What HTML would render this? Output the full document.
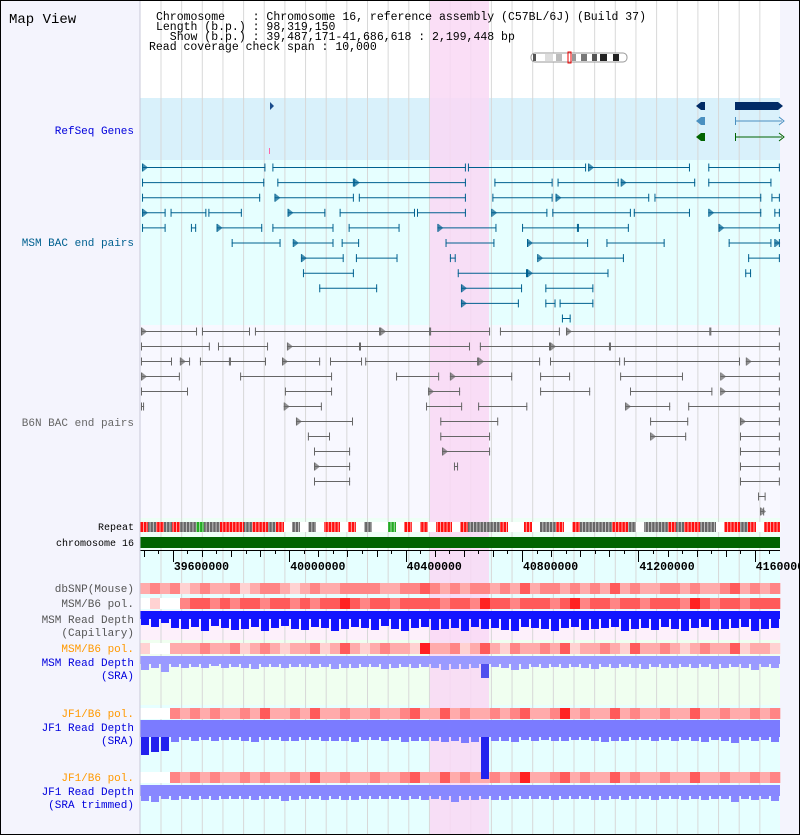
<!DOCTYPE html>
<html><head><meta charset="utf-8"><style>
html,body{margin:0;padding:0;background:#fff}
svg{display:block}
text{font-family:"Liberation Mono",monospace}
</style></head><body>
<svg id="map" width="800" height="835" viewBox="0 0 800 835" xmlns="http://www.w3.org/2000/svg">
<rect x="0" y="0" width="800" height="835" fill="#f4f4fd"/>
<rect x="140" y="0" width="640" height="98" fill="#ffffff"/>
<rect x="140" y="98" width="640" height="62" fill="#d9f1fb"/>
<rect x="140" y="160" width="640" height="165" fill="#e6ffff"/>
<rect x="140" y="325" width="640" height="193" fill="#f8f8ff"/>
<rect x="140" y="518" width="640" height="32" fill="#eefff6"/>
<rect x="140" y="550" width="640" height="60" fill="#e6ffff"/>
<rect x="140" y="610" width="640" height="30" fill="#fdf0fb"/>
<rect x="140" y="640" width="640" height="65" fill="#f0fff0"/>
<rect x="140" y="705" width="640" height="130" fill="#e6ffff"/>
<g id="grid"></g>
<rect x="430" y="0" width="59" height="835" fill="#f9d8f5" opacity="0.85"/>
<g id="marks"></g>
<line x1="140" y1="0" x2="140" y2="835" stroke="#c8c8d8"/>
<rect x="0.5" y="0.5" width="799" height="834" fill="none" stroke="#000"/>

<text x="9" y="23" font-size="14" fill="#000">Map View</text>
<g font-size="11.5" fill="#000">
<text x="156" y="20" xml:space="preserve">Chromosome    : Chromosome 16, reference assembly (C57BL/6J) (Build 37)</text>
<text x="156" y="30" xml:space="preserve">Length (b.p.) : 98,319,150</text>
<text x="156" y="40" xml:space="preserve">  Show (b.p.) : 39,487,171-41,686,618 : 2,199,448 bp</text>
<text x="149" y="50" xml:space="preserve">Read coverage check span : 10,000</text>
</g>
<g>
<rect x="531" y="53" width="96" height="9" rx="4" fill="#fff" stroke="#999"/>
<rect x="533" y="54" width="3" height="7" fill="#555"/>
<rect x="545" y="54" width="8" height="7" fill="#ddd"/>
<rect x="556" y="54" width="6" height="7" fill="#bbb"/>
<rect x="572" y="54" width="4" height="7" fill="#999"/>
<rect x="581" y="54" width="6" height="7" fill="#777"/>
<rect x="592" y="54" width="5" height="7" fill="#555"/>
<rect x="600" y="54" width="7" height="7" fill="#222"/>
<rect x="613" y="54" width="6" height="7" fill="#222"/>
<rect x="568" y="52" width="3" height="11" fill="none" stroke="#e00" stroke-width="1"/>
</g>

<g font-size="11" text-anchor="end">
<text x="134" y="134" fill="#0000dd">RefSeq Genes</text>
<text x="134" y="246" fill="#006090">MSM BAC end pairs</text>
<text x="134" y="426" fill="#666">B6N BAC end pairs</text>
<text x="134" y="530" fill="#000" font-size="10">Repeat</text>
<text x="134" y="546" fill="#000" font-size="10">chromosome 16</text>
<text x="134" y="592" fill="#555">dbSNP(Mouse)</text>
<text x="134" y="607" fill="#555">MSM/B6 pol.</text>
<text x="134" y="623" fill="#555">MSM Read Depth</text>
<text x="134" y="636" fill="#555">(Capillary)</text>
<text x="134" y="652" fill="#f90">MSM/B6 pol.</text>
<text x="134" y="666" fill="#0000dd">MSM Read Depth</text>
<text x="134" y="679" fill="#0000dd">(SRA)</text>
<text x="134" y="717" fill="#f90">JF1/B6 pol.</text>
<text x="134" y="731" fill="#0000dd">JF1 Read Depth</text>
<text x="134" y="744" fill="#0000dd">(SRA)</text>
<text x="134" y="781" fill="#f90">JF1/B6 pol.</text>
<text x="134" y="795" fill="#0000dd">JF1 Read Depth</text>
<text x="134" y="808" fill="#0000dd">(SRA trimmed)</text>
</g>
</svg>
<script>
// window start (bp) and axis
const winStart = 39487171;
const winEnd = 41686618;
const tickValues = [39600000, 40000000, 40400000, 40800000, 41200000, 41600000];
const tickLabels = ["39600000", "40000000", "40400000", "40800000", "41200000", "41600000"];
// BAC end pairs: [startKb, endKb] offsets from window start, per row
const msmRows = [
 [[7,431],[455,1120],[1127,1533],[1540,1890],[1953,2199]],
 [[7,427],[472,735],[735,1120],[1218,1418],[1435,1645],[1652,1908],[1953,2170]],
 [[7,413],[462,735],[752,1120],[1211,1418],[1428,1750],[1768,2135],[2170,2199]],
 [[7,88],[105,228],[235,350],[507,637],[686,945],[952,1120],[1207,1400],[1417,1687],[1697,1890],[1953,2135],[2180,2199]],
 [[7,88],[175,193],[263,420],[455,665],[717,892],[1022,1225],[1313,1505],[1505,1680],[1988,2199]],
 [[315,483],[525,665],[693,753],[1050,1218],[1330,1540],[1603,1803],[2023,2170],[2180,2199]],
 [[553,700],[742,885],[1065,1085],[1365,1663],[2090,2199]],
 [[560,735],[1092,1330],[1330,1610],[2080,2100]],
 [[616,815],[1103,1313],[1393,1558]],
 [[1103,1302],[1393,1428],[1442,1558]],
 [[1450,1480]]
];
const b6nRows = [
 [[0,196],[213,378],[395,825],[825,997],[997,1203],[1237,1443],[1464,1960],[1960,2199]],
 [[0,240],[268,440],[505,756],[756,1134],[1168,1409],[1409,1615],[1615,2199]],
 [[0,110],[137,172],[206,309],[309,433],[488,619],[653,763],[774,1162],[1162,1375],[1409,1650],[1663,2062],[2082,2199]],
 [[0,137],[344,660],[880,1028],[1065,1279],[1375,1478],[1650,1866],[1994,2199]],
 [[0,165],[498,660],[990,1100],[1375,1547],[1684,1967],[1994,2199]],
 [[0,14],[494,625],[983,1107],[1162,1331],[1667,1822],[1884,2199]],
 [[536,732],[1032,1231],[1753,1884],[2062,2199]],
 [[577,653],[1032,1203],[1753,1877],[2062,2199]],
 [[598,722],[1038,1203],[2062,2199]],
 [[598,722],[1079,1093],[2062,2199]],
 [[598,722],[2062,2199]],
 [[2124,2150]],
 [[2131,2145]]
];
// Repeat track classes per bin: 0 none, 1 other, 2 LINE/SINE, 3 low complexity
const repeatBins = [2,1,2,1,2,1,1,3,1,1,2,2,2,1,2,2,1,2,0,1,0,1,0,2,2,0,2,0,1,0,0,3,0,2,0,2,0,2,2,0,2,1,1,1,1,2,0,0,2,0,1,1,2,0,2,1,1,1,1,2,2,1,0,1,1,1,2,1,2,2,1,1,0,2,2,1,2,0,2,2];
// Heat values (0-5) per bin
const dbsnpHeat = [2,3,2,3,1,2,3,2,2,3,1,2,3,3,2,1,2,3,2,2,3,3,3,3,2,2,3,3,4,3,2,3,2,3,3,2,3,2,4,2,3,3,2,3,2,3,2,4,2,3,2,2,3,3,2,3,2,2,3,4,2,3,2,3];
const msmPolHeat = [0,1,0,0,3,4,4,3,4,3,4,4,3,4,4,3,4,3,4,4,5,4,3,4,4,3,4,4,4,4,3,4,4,3,5,4,4,3,4,4,4,3,4,5,3,4,4,3,4,4,3,4,4,4,3,5,4,3,4,4,3,4,4,4];
const msmSraPolHeat = [1,0,0,2,2,2,3,2,2,3,1,2,3,2,1,2,2,3,1,2,4,2,1,2,3,2,2,1,5,2,2,3,1,2,4,2,1,3,2,2,3,2,4,1,2,2,3,2,1,4,2,2,3,2,1,2,3,2,2,4,1,2,2,1];
const jf1PolHeat = [0,0,0,3,2,3,2,3,2,2,3,2,4,2,2,3,2,4,2,2,3,2,2,3,2,2,3,4,2,2,4,2,3,2,2,3,2,3,4,2,2,3,5,2,3,2,2,4,2,3,2,2,3,2,2,4,2,2,3,2,2,3,2,3];
const jf1TrimPolHeat = [0,0,0,3,2,3,2,3,2,2,3,2,3,2,2,3,2,4,2,2,3,2,2,3,2,2,3,4,2,2,4,2,3,2,2,3,2,3,5,2,2,3,4,2,3,2,2,4,2,3,2,2,3,2,2,4,2,2,3,2,2,3,2,3];
// Read depth (px below band) per bin
const capDepth = [6,8,4,9,10,8,12,7,9,11,10,8,12,9,7,10,11,8,9,12,10,8,9,11,7,10,12,9,8,11,10,9,12,8,10,9,11,12,8,9,10,12,9,8,11,10,9,8,12,10,9,11,8,10,12,9,8,11,10,9,8,12,10,9];
const msmSraDepth = [6,4,8,3,4,3,4,2,4,3,4,5,3,3,4,3,3,4,3,5,4,4,3,3,5,4,3,4,3,4,6,5,5,4,14,3,4,6,5,3,4,3,4,3,4,5,3,4,3,4,5,3,4,4,3,4,3,5,4,3,4,6,3,4];
const jf1Depth = [18,15,14,5,3,4,3,4,3,3,4,5,3,3,4,4,3,3,4,4,4,5,3,3,4,3,5,4,4,4,5,4,6,5,42,4,4,5,3,4,3,4,4,3,3,4,5,4,4,3,3,4,3,4,3,4,5,3,4,6,3,4,3,5];
const jf1TrimDepth = [5,6,3,4,3,4,3,4,3,3,3,4,3,3,5,4,3,3,4,3,4,4,3,3,3,3,4,3,4,3,4,6,4,4,3,4,4,3,3,3,3,4,3,3,3,4,4,3,4,3,3,4,3,3,4,3,4,3,3,6,3,4,3,5];

const NS = "http://www.w3.org/2000/svg";
const X0 = 140, X1 = 780;
const pxPerBp = 640 / (winEnd - winStart);
function xBp(bp){ return X0 + (bp - winStart) * pxPerBp; }
function xKb(kb){ return X0 + kb * 1000 * pxPerBp; }
function xBin(i, n){ return X0 + i * (X1 - X0) / n; }
const heatColors = ["#ffffff","#ffd2d2","#ffabab","#ff8585","#ff5a5a","#ff2222"];
const repeatColors = [null,"#666666","#ff1010","#22aa22"];
function mk(tag, attrs, parent){
  const e = document.createElementNS(NS, tag);
  for (const k in attrs) e.setAttribute(k, attrs[k]);
  parent.appendChild(e);
  return e;
}
const grid = document.getElementById('grid');
const marks = document.getElementById('marks');
for (let gx = 161; gx < 780; gx += 20.65) {
  const l = mk('line', {x1: gx, y1: 0, x2: gx, y2: 835, stroke: '#d8d8d8', 'stroke-width': 1}, grid);
  
  
}
// RefSeq genes
const genes = mk('g', {}, marks);


mk('path', {d: 'M270 102 l4 4 l-4 4 z', fill: '#1a4c8c'}, genes);
mk('rect', {x: 269, y: 148, width: 1, height: 6, fill: '#ff66aa'}, genes);
mk('path', {d: 'M701 102 l-5 4 l5 4 z', fill: '#002b66'}, genes);
mk('rect', {x: 701, y: 102, width: 4, height: 8, fill: '#002b66'}, genes);
mk('rect', {x: 735, y: 102, width: 43, height: 8, fill: '#002b66'}, genes);
mk('path', {d: 'M778 102 l5 4 l-5 4 z', fill: '#002b66'}, genes);
mk('path', {d: 'M701 117 l-5 4 l5 4 z', fill: '#4a90c0'}, genes);
mk('rect', {x: 701, y: 117, width: 4, height: 8, fill: '#4a90c0'}, genes);
mk('line', {x1: 735, y1: 121, x2: 782, y2: 121, stroke: '#4a90c0'}, genes);
mk('line', {x1: 735.5, y1: 117, x2: 735.5, y2: 125, stroke: '#4a90c0'}, genes);
mk('path', {d: 'M779 117 l5 4 l-5 4', fill: 'none', stroke: '#4a90c0'}, genes);
mk('path', {d: 'M701 133 l-5 4 l5 4 z', fill: '#006400'}, genes);
mk('rect', {x: 701, y: 133, width: 4, height: 8, fill: '#006400'}, genes);
mk('line', {x1: 735, y1: 137, x2: 782, y2: 137, stroke: '#006400'}, genes);
mk('line', {x1: 735.5, y1: 133, x2: 735.5, y2: 141, stroke: '#006400'}, genes);
mk('path', {d: 'M779 133 l5 4 l-5 4', fill: 'none', stroke: '#006400'}, genes);

function drawPairs(rows, y0, dy, color, name){
  const g = mk('g', {}, marks);
  
  
  rows.forEach((row, r) => {
    const y = y0 + r * dy + 0.5;
    row.forEach((seg, k) => {
      const a = Math.max(X0 + 1, xKb(seg[0]));
      const b = Math.min(X1, xKb(seg[1]));
      const p = mk('g', {}, g);
      
      
      mk('line', {x1: a, y1: y, x2: b, y2: y, stroke: color}, p);
      mk('line', {x1: a + 0.5, y1: y - 4, x2: a + 0.5, y2: y + 4, stroke: color}, p);
      mk('line', {x1: b - 0.5, y1: y - 4, x2: b - 0.5, y2: y + 4, stroke: color}, p);
      if ((r + k) % 3 === 0) {
        mk('path', {d: 'M' + (a + 1) + ' ' + (y - 4) + ' l5 4 l-5 4 z', fill: color, opacity: 0.7}, p);
      }
    });
  });
}
drawPairs(msmRows, 167, 15.1, '#00608f', 'msm-bac-end-pairs');
drawPairs(b6nRows, 331, 15, '#666666', 'b6n-bac-end-pairs');

// Repeat
const rep = mk('g', {}, marks);


mk('rect', {x: X0, y: 522, width: 640, height: 10, fill: '#fff'}, rep);
repeatBins.forEach((v, i) => {
  if (!v) return;
  const w = (X1 - X0) / repeatBins.length;
  const c = mk('rect', {x: xBin(i, repeatBins.length), y: 522, width: w, height: 10, fill: repeatColors[v]}, rep);
  
  
});
for (let gx = 143; gx < 780; gx += 3.3) {
  mk('rect', {x: gx, y: 522, width: 1, height: 10, fill: '#fff', opacity: 0.6}, rep);
}
const chr = mk('rect', {x: X0, y: 537, width: 640, height: 11, fill: '#006400'}, marks);



// Axis
const ax = mk('g', {}, marks);


mk('line', {x1: X0, y1: 550.5, x2: X1, y2: 550.5, stroke: '#000'}, ax);
for (let bp = 39500000; bp <= winEnd; bp += 50000) {
  const x = Math.round(xBp(bp)) + 0.5;
  if (x > X1) break;
  const major = bp % 400000 === 0;
  const mid = bp % 100000 === 0;
  mk('line', {x1: x, y1: 550, x2: x, y2: major ? 562 : (mid ? 557 : 554), stroke: '#000'}, ax);
}
tickValues.forEach((v, i) => {
  const t = mk('text', {x: xBp(v) + 1, y: 570, 'font-size': 11.5, 'font-weight': 'bold', fill: '#000'}, ax);
  t.textContent = tickLabels[i];
  
  
});

function heat(arr, y, h, name){
  const g = mk('g', {}, marks);
  
  
  const w = (X1 - X0) / arr.length;
  arr.forEach((v, i) => {
    const c = mk('rect', {x: xBin(i, arr.length), y: y, width: w + 0.3, height: h, fill: heatColors[v]}, g);
    
    
  });
}
heat(dbsnpHeat, 583, 11, 'dbsnp-track');
heat(msmPolHeat, 598, 11, 'msm-pol-track');
heat(msmSraPolHeat, 643, 11, 'msm-sra-pol-track');
heat(jf1PolHeat, 708, 11, 'jf1-pol-track');
heat(jf1TrimPolHeat, 772, 11, 'jf1-trimmed-pol-track');

function depth(arr, y, base, fill, deepFill, name){
  const g = mk('g', {}, marks);
  
  
  mk('rect', {x: X0, y: y, width: 640, height: base, fill: fill}, g);
  const w = (X1 - X0) / arr.length;
  arr.forEach((v, i) => {
    const b = mk('rect', {x: xBin(i, arr.length) + 1, y: y + base, width: w - 2, height: v, fill: v > 12 ? deepFill : fill}, g);
    
    
  });
}
depth(capDepth, 611, 8, '#1414ff', '#0000cc', 'msm-capillary-depth');
depth(msmSraDepth, 656, 8, '#9a9aff', '#5050ee', 'msm-sra-depth');
depth(jf1Depth, 720, 17, '#7b7bff', '#2222ee', 'jf1-sra-depth');
depth(jf1TrimDepth, 785, 11, '#8888ff', '#5555ee', 'jf1-trimmed-depth');
</script>
</body></html>
